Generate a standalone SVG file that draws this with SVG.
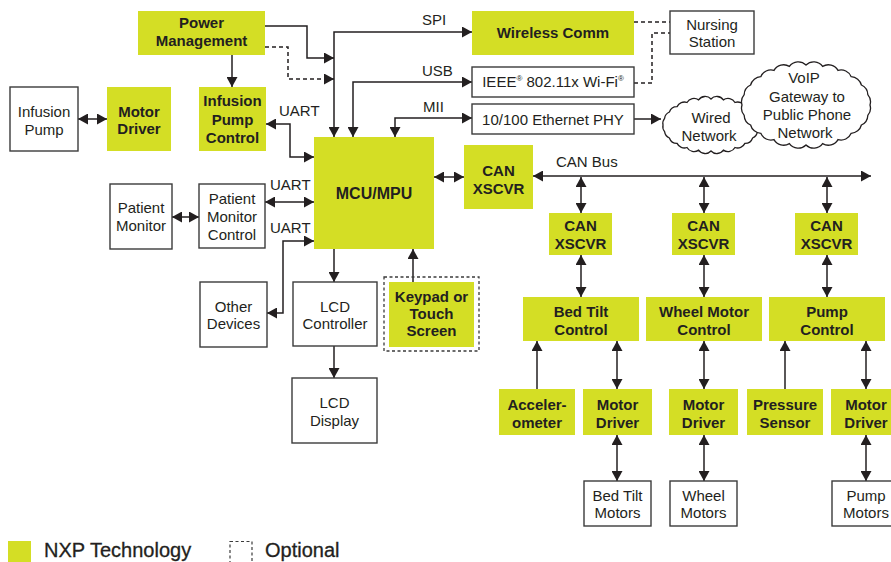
<svg xmlns="http://www.w3.org/2000/svg" width="891" height="562" viewBox="0 0 891 562">
<style>
.g{fill:#D4DE25}
.w{fill:#fff;stroke:#3b3b3b;stroke-width:1.4}
.t{font-family:"Liberation Sans",Arial,sans-serif;font-size:15px;fill:#231f20;text-anchor:middle}
.l{font-family:"Liberation Sans",Arial,sans-serif;font-size:15px;fill:#231f20}
.b{font-weight:bold}
.c{fill:none;stroke:#231f20;stroke-width:1.5}
.a{marker-end:url(#ah)}
.aa{marker-start:url(#ah);marker-end:url(#ah)}
.d{stroke-dasharray:4 3}
.cl{fill:#fff;stroke:#231f20;stroke-width:1.3}
.lg{font-size:20px;stroke:#231f20;stroke-width:0.3}
</style>
<defs>
<marker id="ah" viewBox="0 0 10 11" refX="10" refY="5.5" markerWidth="10" markerHeight="11" markerUnits="userSpaceOnUse" orient="auto-start-reverse">
<path d="M0,0 L10,5.5 L0,11 z" fill="#231f20"/>
</marker>
</defs>
<rect width="891" height="562" fill="#fff"/>

<g id="connectors">
<path class="c a" d="M232,55 V87"/>
<path class="c a" d="M265,26 H307 V58 H334"/>
<path class="c d a" d="M265,47 H288 V79 H334"/>
<path class="c aa" d="M334,137 V32 H472"/>
<path class="c aa" d="M353,137 V82 H472"/>
<path class="c aa" d="M395,137 V118 H472"/>
<path class="c a" d="M634,119 H661"/>
<path class="c d" d="M634,22 H670"/>
<path class="c d" d="M634,83 H652 V33 H670"/>
<path class="c aa" d="M78,119 H107"/>
<path class="c aa" d="M266,124 H290 V157 H314"/>
<path class="c aa" d="M172,217 H199"/>
<path class="c aa" d="M265,202 H314"/>
<path class="c aa" d="M314,241 H283 V313 H267"/>
<path class="c a" d="M334,249 V282"/>
<path class="c a" d="M334,346 V378"/>
<path class="c a" d="M413,282 V249"/>
<path class="c aa" d="M434,177 H464"/>
<path class="c aa" d="M533,176 H871"/>
<path class="c aa" d="M581,177 V213"/>
<path class="c aa" d="M704,177 V213"/>
<path class="c aa" d="M827,177 V213"/>
<path class="c aa" d="M581,255 V297"/>
<path class="c aa" d="M704,255 V297"/>
<path class="c aa" d="M827,255 V297"/>
<path class="c a" d="M537,389 V341"/>
<path class="c aa" d="M617,341 V389"/>
<path class="c aa" d="M704,341 V389"/>
<path class="c a" d="M785,389 V341"/>
<path class="c aa" d="M866,341 V389"/>
<path class="c aa" d="M617,435 V481"/>
<path class="c aa" d="M704,435 V481"/>
<path class="c aa" d="M866,435 V481"/>
</g>

<g id="labels">
<text class="l" x="422" y="25">SPI</text>
<text class="l" x="422" y="76">USB</text>
<text class="l" x="423" y="112">MII</text>
<text class="l" x="279" y="115.5">UART</text>
<text class="l" x="270" y="189.5">UART</text>
<text class="l" x="270" y="233">UART</text>
<text class="l" x="556" y="166.5">CAN Bus</text>
</g>

<g id="power-management"><rect class="g" x="138" y="11" width="127" height="44"/>
<text class="t b" x="201.5" y="28">Power</text><text class="t b" x="201.5" y="46">Management</text></g>

<g id="infusion-pump"><rect class="w" x="10" y="87" width="68" height="64"/>
<text class="t" x="44" y="116.5">Infusion</text><text class="t" x="44" y="134.5">Pump</text></g>

<g id="motor-driver-left"><rect class="g" x="107" y="87" width="64" height="64"/>
<text class="t b" x="139" y="116.5">Motor</text><text class="t b" x="139" y="134">Driver</text></g>

<g id="infusion-pump-control"><rect class="g" x="199" y="87" width="67" height="64"/>
<text class="t b" x="232.5" y="106">Infusion</text><text class="t b" x="232.5" y="124.5">Pump</text><text class="t b" x="232.5" y="143">Control</text></g>

<g id="mcu"><rect class="g" x="314" y="137" width="120" height="112"/>
<text class="t b" x="374" y="198.5" style="font-size:16px">MCU/MPU</text></g>

<g id="wireless-comm"><rect class="g" x="472" y="11" width="162" height="44"/>
<text class="t b" x="553" y="38">Wireless Comm</text></g>

<g id="nursing-station"><rect class="w" x="670" y="11" width="84" height="43"/>
<text class="t" x="712" y="29.5">Nursing</text><text class="t" x="712" y="47">Station</text></g>

<g id="wifi"><rect class="w" x="472" y="67" width="162" height="30"/>
<text class="t" x="553" y="87">IEEE<tspan font-size="8" dy="-6">®</tspan><tspan dy="6"> 802.11x Wi-Fi</tspan><tspan font-size="8" dy="-6">®</tspan></text></g>

<g id="ethernet"><rect class="w" x="472" y="104" width="162" height="30"/>
<text class="t" x="553" y="125">10/100 Ethernet PHY</text></g>

<g id="wired-network">
<path class="cl" d="M759,125 A8,8 0 0 1 757.4,131.7 A8,8 0 0 1 752.6,138 A8,8 0 0 1 744.9,143.4 A8,8 0 0 1 735,147.5 A8,8 0 0 1 723.4,150.1 A8,8 0 0 1 711,151 A8,8 0 0 1 698.6,150.1 A8,8 0 0 1 687,147.5 A8,8 0 0 1 677.1,143.4 A8,8 0 0 1 669.4,138 A8,8 0 0 1 664.6,131.7 A8,8 0 0 1 663,125 A8,8 0 0 1 664.6,118.3 A8,8 0 0 1 669.4,112 A8,8 0 0 1 677.1,106.6 A8,8 0 0 1 687,102.5 A8,8 0 0 1 698.6,99.9 A8,8 0 0 1 711,99 A8,8 0 0 1 723.4,99.9 A8,8 0 0 1 735,102.5 A8,8 0 0 1 744.9,106.6 A8,8 0 0 1 752.6,112 A8,8 0 0 1 757.4,118.3 A8,8 0 0 1 759,125 Z"/>
<text class="t" x="711" y="122.5">Wired</text><text class="t" x="709" y="140.5">Network</text></g>

<g id="voip">
<path class="cl" d="M870,105 A11,11 0 0 1 867.8,115.4 A11,11 0 0 1 861.4,125 A11,11 0 0 1 851.2,133.3 A11,11 0 0 1 838,139.6 A11,11 0 0 1 822.6,143.6 A11,11 0 0 1 806,145 A11,11 0 0 1 789.4,143.6 A11,11 0 0 1 774,139.6 A11,11 0 0 1 760.8,133.3 A11,11 0 0 1 750.6,125 A11,11 0 0 1 744.2,115.4 A11,11 0 0 1 742,105 A11,11 0 0 1 744.2,94.6 A11,11 0 0 1 750.6,85 A11,11 0 0 1 760.8,76.7 A11,11 0 0 1 774,70.4 A11,11 0 0 1 789.4,66.4 A11,11 0 0 1 806,65 A11,11 0 0 1 822.6,66.4 A11,11 0 0 1 838,70.4 A11,11 0 0 1 851.2,76.7 A11,11 0 0 1 861.4,85 A11,11 0 0 1 867.8,94.6 A11,11 0 0 1 870,105 Z"/>
<text class="t" x="804" y="82.5">VoIP</text><text class="t" x="807" y="101.5">Gateway to</text><text class="t" x="807" y="119.5">Public Phone</text><text class="t" x="805" y="137.5">Network</text></g>

<g id="can-main"><rect class="g" x="464" y="145" width="69" height="64"/>
<text class="t b" x="498.5" y="175.5">CAN</text><text class="t b" x="498.5" y="193.5">XSCVR</text></g>

<g id="patient-monitor"><rect class="w" x="110" y="184" width="62" height="65"/>
<text class="t" x="141" y="213">Patient</text><text class="t" x="141" y="231">Monitor</text></g>

<g id="patient-monitor-control"><rect class="w" x="199" y="184" width="66" height="64"/>
<text class="t" x="232" y="204">Patient</text><text class="t" x="232" y="222">Monitor</text><text class="t" x="232" y="240">Control</text></g>

<g id="other-devices"><rect class="w" x="200" y="282" width="67" height="65"/>
<text class="t" x="233.5" y="311.5">Other</text><text class="t" x="233.5" y="329">Devices</text></g>

<g id="lcd-controller"><rect class="w" x="293" y="282" width="84" height="64"/>
<text class="t" x="335" y="311.5">LCD</text><text class="t" x="335" y="329">Controller</text></g>

<g id="lcd-display"><rect class="w" x="292" y="378" width="85" height="65"/>
<text class="t" x="334.5" y="408">LCD</text><text class="t" x="334.5" y="426">Display</text></g>

<g id="keypad"><rect x="384" y="277" width="95" height="74" fill="none" stroke="#3b3b3b" stroke-width="1.3" stroke-dasharray="3 2.5"/>
<rect class="g" x="389" y="282" width="85" height="65"/>
<text class="t b" x="431.5" y="302">Keypad or</text><text class="t b" x="431.5" y="319">Touch</text><text class="t b" x="431.5" y="336">Screen</text></g>

<g id="can1"><rect class="g" x="549" y="213" width="63" height="42"/>
<text class="t b" x="580.5" y="231">CAN</text><text class="t b" x="580.5" y="249">XSCVR</text></g>
<g id="can2"><rect class="g" x="672" y="213" width="63" height="42"/>
<text class="t b" x="703.5" y="231">CAN</text><text class="t b" x="703.5" y="249">XSCVR</text></g>
<g id="can3"><rect class="g" x="795" y="213" width="63" height="42"/>
<text class="t b" x="826.5" y="231">CAN</text><text class="t b" x="826.5" y="249">XSCVR</text></g>

<g id="bed-tilt-control"><rect class="g" x="523" y="297" width="116" height="44"/>
<text class="t b" x="581" y="316.5">Bed Tilt</text><text class="t b" x="581" y="334.5">Control</text></g>
<g id="wheel-motor-control"><rect class="g" x="646" y="297" width="116" height="44"/>
<text class="t b" x="704" y="316.5">Wheel Motor</text><text class="t b" x="704" y="334.5">Control</text></g>
<g id="pump-control"><rect class="g" x="769" y="297" width="116" height="44"/>
<text class="t b" x="827" y="316.5">Pump</text><text class="t b" x="827" y="334.5">Control</text></g>

<g id="accelerometer"><rect class="g" x="499" y="389" width="76" height="46"/>
<text class="t b" x="537" y="409.5">Acceler-</text><text class="t b" x="537" y="427.5">ometer</text></g>
<g id="motor-driver-1"><rect class="g" x="583" y="389" width="69" height="46"/>
<text class="t b" x="617.5" y="409.5">Motor</text><text class="t b" x="617.5" y="427.5">Driver</text></g>
<g id="motor-driver-2"><rect class="g" x="669" y="389" width="69" height="46"/>
<text class="t b" x="703.5" y="409.5">Motor</text><text class="t b" x="703.5" y="427.5">Driver</text></g>
<g id="pressure-sensor"><rect class="g" x="747" y="389" width="76" height="46"/>
<text class="t b" x="785" y="409.5">Pressure</text><text class="t b" x="785" y="427.5">Sensor</text></g>
<g id="motor-driver-3"><rect class="g" x="831" y="389" width="70" height="46"/>
<text class="t b" x="866" y="409.5">Motor</text><text class="t b" x="866" y="427.5">Driver</text></g>

<g id="bed-tilt-motors"><rect class="w" x="584" y="481" width="67" height="45"/>
<text class="t" x="617.5" y="500.5">Bed Tilt</text><text class="t" x="617.5" y="518">Motors</text></g>
<g id="wheel-motors"><rect class="w" x="670" y="481" width="67" height="45"/>
<text class="t" x="703.5" y="500.5">Wheel</text><text class="t" x="703.5" y="518">Motors</text></g>
<g id="pump-motors"><rect class="w" x="832" y="481" width="68" height="45"/>
<text class="t" x="866" y="500.5">Pump</text><text class="t" x="866" y="518">Motors</text></g>

<g id="legend">
<rect class="g" x="8" y="541" width="23" height="22"/>
<text class="l lg" x="44" y="557">NXP Technology</text>
<rect x="230" y="541.5" width="22" height="25" fill="none" stroke="#3b3b3b" stroke-width="1.2" stroke-dasharray="3 2.5"/>
<text class="l lg" x="265" y="557">Optional</text>
</g>
</svg>
